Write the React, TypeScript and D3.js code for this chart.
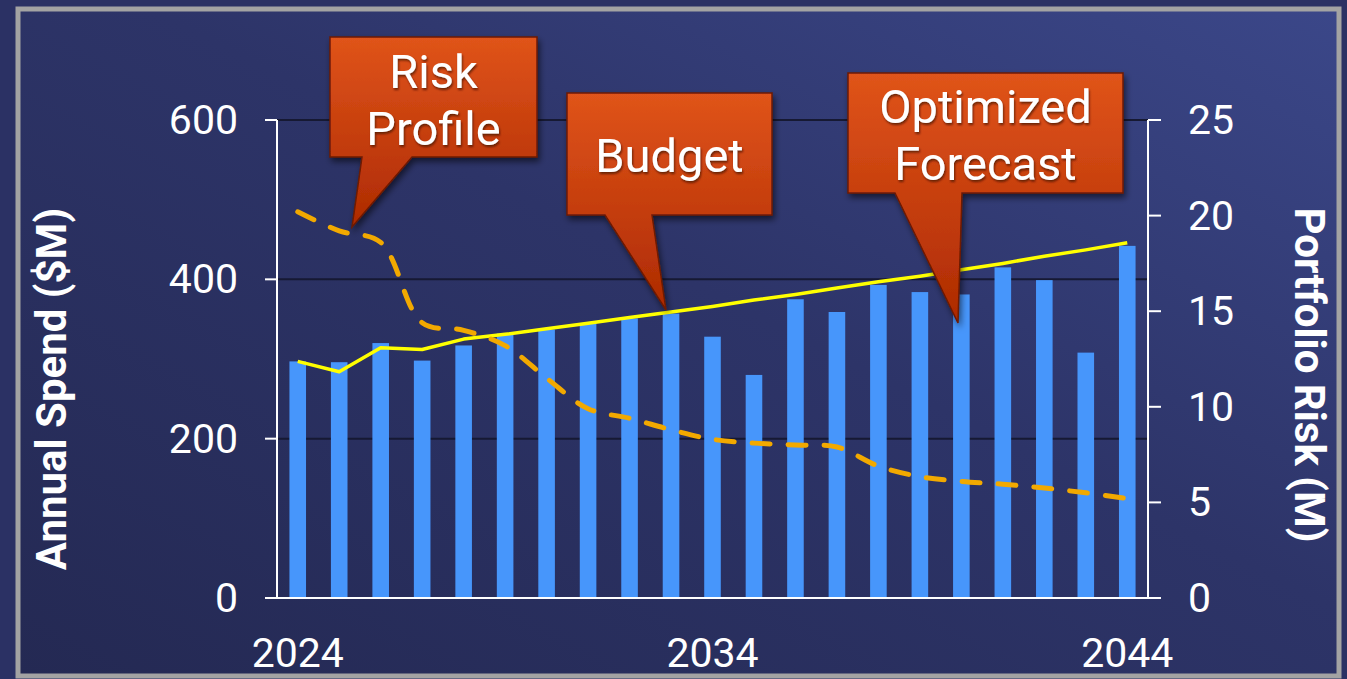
import * as d3 from "d3";

const years = d3.range(2024, 2045);
const spend = [297, 296, 320, 298, 317, 332, 337, 345, 351, 357, 328, 280, 375, 359, 393, 384, 381, 415, 399, 308, 442];
const budget = [297, 284, 314, 312, 325, 331, 338, 345, 352, 359, 366, 374, 381, 389, 397, 404, 412, 420, 429, 437, 446];
const risk = [20.2, 19.2, 18.6, 14.4, 14.0, 13.2, 11.5, 9.9, 9.4, 8.8, 8.3, 8.1, 8.0, 7.9, 6.9, 6.35, 6.1, 5.95, 5.75, 5.5, 5.2];
const leftTicks = [0, 200, 400, 600];
const rightTicks = [0, 5, 10, 15, 20, 25];
const yearLabels = [2024, 2034, 2044];

// callout boxes: [x0, y0, x1, y1, tail left, tail right, tip x, tip y]
const callouts = [
  { lines: ["Risk", "Profile"], box: [330, 37, 537, 157, 362, 412, 352, 227], base: [88, 145] },
  { lines: ["Budget"], box: [567, 93, 772, 215, 605, 652, 666, 310], base: [172] },
  { lines: ["Optimized", "Forecast"], box: [848, 73, 1123, 193, 895, 962, 958, 323], base: [123, 180] },
];

const W = 1347;
const H = 679;
const left = 277;
const right = 1148;
const top = 120;
const bottom = 598;
const font = "Roboto, 'Noto Sans', sans-serif";

export default function App() {
  const x = d3.scaleBand<number>().domain(years).range([left, right]).paddingInner(0.6).paddingOuter(0.3);
  const y = d3.scaleLinear().domain([0, 600]).range([bottom, top]);
  const yR = d3.scaleLinear().domain([0, 25]).range([bottom, top]);
  const cx = (yr: number) => (x(yr) as number) + x.bandwidth() / 2;

  const budgetLine = d3.line<number>().x((d, i) => cx(years[i])).y(d => y(d));
  const riskLine = d3.line<number>().x((d, i) => cx(years[i])).y(d => yR(d)).curve(d3.curveCatmullRom.alpha(0.5));

  const calloutPath = (b: number[]) => {
    const [x0, y0, x1, y1, t0, t1, tx, ty] = b;
    return `M${x0},${y0}H${x1}V${y1}H${t1}L${tx},${ty}L${t0},${y1}H${x0}Z`;
  };

  return (
    <svg width={W} height={H} style={{ position: "absolute", left: 0, top: 0 }} fontFamily={font}>
      <defs>
        <linearGradient id="bg" x1="0" y1="1" x2="1" y2="0">
          <stop offset="0" stopColor="#242953" />
          <stop offset="0.55" stopColor="#2d3468" />
          <stop offset="1" stopColor="#3b4789" />
        </linearGradient>
        <linearGradient id="red" x1="0" y1="0" x2="0" y2="1">
          <stop offset="0" stopColor="#e0541a" />
          <stop offset="1" stopColor="#ad2a02" />
        </linearGradient>
        <filter id="shadow" x="-20%" y="-20%" width="140%" height="140%">
          <feDropShadow dx="2" dy="4" stdDeviation="3" floodColor="#000" floodOpacity="0.55" />
        </filter>
        <filter id="tshadow" x="-10%" y="-10%" width="120%" height="130%">
          <feDropShadow dx="1" dy="2" stdDeviation="1" floodColor="#3a0a00" floodOpacity="0.7" />
        </filter>
      </defs>

      <rect width={W} height={H} fill="#2b3164" />
      <rect x={18} y={9} width={1321} height={667} fill="url(#bg)" stroke="#a3a3a3" strokeWidth={5} />

      {/* gridlines */}
      {leftTicks.filter(t => t > 0).map(t => (
        <line key={t} x1={left} x2={right} y1={y(t)} y2={y(t)} stroke="#161933" strokeWidth={2} />
      ))}

      {/* bars */}
      {spend.map((v, i) => (
        <rect key={years[i]} x={x(years[i])} y={y(v)} width={x.bandwidth()} height={bottom - y(v)} fill="#4796fb" />
      ))}

      {/* axes */}
      <g stroke="#ffffff" strokeWidth={2}>
        <line x1={left} x2={left} y1={top} y2={bottom} />
        <line x1={right} x2={right} y1={top} y2={bottom} />
        <line x1={left - 12} x2={right} y1={bottom} y2={bottom} />
        {leftTicks.map(t => (
          <line key={t} x1={left - 12} x2={left} y1={y(t)} y2={y(t)} />
        ))}
        {rightTicks.map(t => (
          <line key={t} x1={right} x2={right + 13} y1={yR(t)} y2={yR(t)} />
        ))}
      </g>
      <g fill="#ffffff" fontSize={41}>
        {leftTicks.map(t => (
          <text key={t} x={238} y={y(t)} textAnchor="end" dominantBaseline="central">{t}</text>
        ))}
        {rightTicks.map(t => (
          <text key={t} x={1188} y={yR(t)} dominantBaseline="central">{t}</text>
        ))}
        {yearLabels.map(t => (
          <text key={t} x={cx(t)} y={667} textAnchor="middle">{t}</text>
        ))}
      </g>
      <text transform="translate(66,389) rotate(-90)" textAnchor="middle" fill="#fff" fontSize={42} fontWeight="bold">Annual Spend ($M)</text>
      <text transform="translate(1295,375) rotate(90)" textAnchor="middle" fill="#fff" fontSize={42} fontWeight="bold">Portfolio Risk (M)</text>

      {/* lines */}
      <path d={budgetLine(budget) ?? ""} fill="none" stroke="#ffff00" strokeWidth={3.5} strokeLinejoin="round" />
      <path d={riskLine(risk) ?? ""} fill="none" stroke="#f2a900" strokeWidth={5} strokeDasharray="18 18" strokeLinecap="round" />

      {/* callouts */}
      {callouts.map((c, k) => (
        <g key={k}>
          <path d={calloutPath(c.box)} fill="url(#red)" stroke="#6e1a06" strokeWidth={1.5} filter="url(#shadow)" />
          {c.lines.map((l, j) => (
            <text key={j} x={(c.box[0] + c.box[2]) / 2} y={c.base[j]} textAnchor="middle" fill="#fff" fontSize={47} filter="url(#tshadow)">{l}</text>
          ))}
        </g>
      ))}
    </svg>
  );
}
